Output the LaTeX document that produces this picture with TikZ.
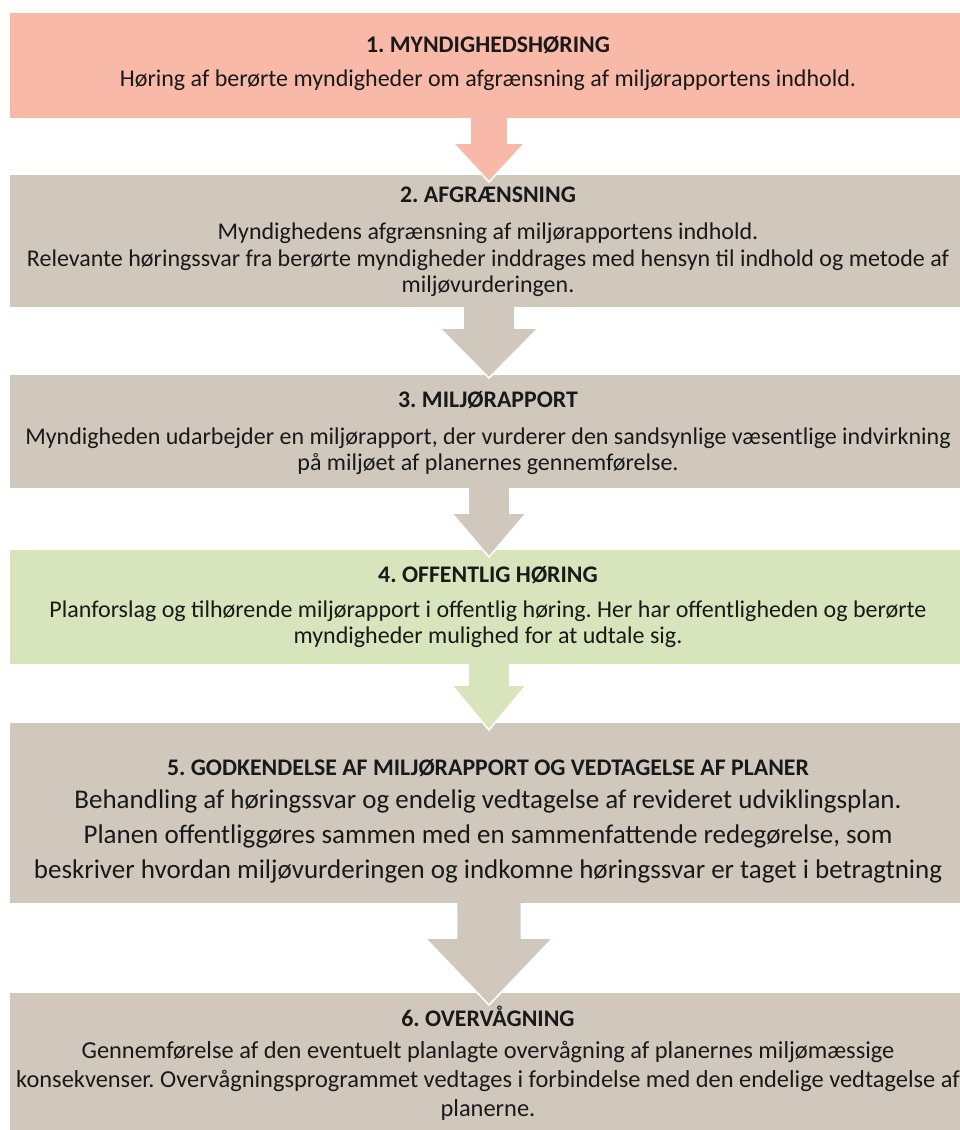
\documentclass[tikz,border=0pt]{standalone}
\usepackage{fontspec}
\setmainfont{Carlito}
\usetikzlibrary{calc}
\definecolor{pinkc}{RGB}{248,185,168}
\definecolor{grayc}{RGB}{208,200,189}
\definecolor{greenc}{RGB}{216,228,188}
\tikzset{
  box/.style={rectangle, draw=none, minimum width=962pt, inner sep=0pt, anchor=north west},
  arr/.style={draw=white, line width=1.6pt, line join=miter},
  ttl/.style={font=\fontsize{23.8}{28}\selectfont\bfseries\frenchspacing, inner sep=0pt, text=black!90},
  bdy/.style={font=\fontsize{24}{26.5}\selectfont\frenchspacing, align=center, inner sep=0pt, text=black!90},
}
% #1 colour, #2 centre x, #3 top y, #4 head top y, #5 tip y, #6 shaft width, #7 head width
\newcommand\blockarrow[7]{%
  \draw[arr, fill=#1] (#2-#6/2,-#3) -- (#2-#6/2,-#4) -- (#2-#7/2,-#4) -- (#2,-#5)
    -- (#2+#7/2,-#4) -- (#2+#6/2,-#4) -- (#2+#6/2,-#3) -- cycle;}
\begin{document}
\begin{tikzpicture}[x=1pt,y=1pt]
\useasboundingbox (0,0) rectangle (960,-1130);
\fill[white] (0,0) rectangle (960,-1130);
% boxes drawn bottom-up so each arrow sits over the box it points at
\node[box, fill=grayc, minimum height=140pt] (b6) at (10,-993) {};
\blockarrow{grayc}{489}{898}{938}{1005}{65}{128}
\node[box, fill=grayc, minimum height=180pt] (b5) at (10,-723) {};
\blockarrow{greenc}{489}{659}{685}{730}{42}{75}
\node[box, fill=greenc, minimum height=114pt] (b4) at (10,-550) {};
\blockarrow{grayc}{489}{483}{513}{557}{42}{75}
\node[box, fill=grayc, minimum height=113pt] (b3) at (10,-375) {};
\blockarrow{grayc}{489}{302}{328}{378}{52}{99}
\node[box, fill=grayc, minimum height=132pt] (b2) at (10,-175) {};
\blockarrow{pinkc}{489}{113}{143}{182}{38}{72}
\node[box, fill=pinkc, minimum height=105pt] (b1) at (10,-13) {};
% texts
\node[ttl] (t1) at (488,-45) {1. MYNDIGHEDSHØRING};
\node[bdy] (d1) at (488,-80) {Høring af berørte myndigheder om afgrænsning af miljørapportens indhold.};
\node[ttl] (t2) at (488,-195) {2. AFGRÆNSNING};
\node[bdy] (d2) at (488,-260) {Myndighedens afgrænsning af miljørapportens indhold.\\Relevante høringssvar fra berørte myndigheder inddrages med hensyn til indhold og metode af\\miljøvurderingen.};
\node[ttl] (t3) at (488,-400) {3. MILJØRAPPORT};
\node[bdy] (d3) at (488,-451) {Myndigheden udarbejder en miljørapport, der vurderer den sandsynlige væsentlige indvirkning\\på miljøet af planernes gennemførelse.};
\node[ttl] (t4) at (488,-575) {4. OFFENTLIG HØRING};
\node[bdy] (d4) at (488,-624) {Planforslag og tilhørende miljørapport i offentlig høring. Her har offentligheden og berørte\\myndigheder mulighed for at udtale sig.};
\node[ttl] (t5) at (488,-768) {5. GODKENDELSE AF MILJØRAPPORT OG VEDTAGELSE AF PLANER};
\node[bdy, font=\fontsize{27}{35}\selectfont\frenchspacing] (d5) at (488,-836) {Behandling af høringssvar og endelig vedtagelse af revideret udviklingsplan.\\Planen offentliggøres sammen med en sammenfattende redegørelse, som\\beskriver hvordan miljøvurderingen og indkomne høringssvar er taget i betragtning};
\node[ttl] (t6) at (488,-1016) {6. OVERVÅGNING};
\node[bdy, font=\fontsize{24.4}{29}\selectfont\frenchspacing] (d6) at (488,-1081) {Gennemførelse af den eventuelt planlagte overvågning af planernes miljømæssige\\konsekvenser. Overvågningsprogrammet vedtages i forbindelse med den endelige vedtagelse af\\planerne.};
\end{tikzpicture}
\end{document}
